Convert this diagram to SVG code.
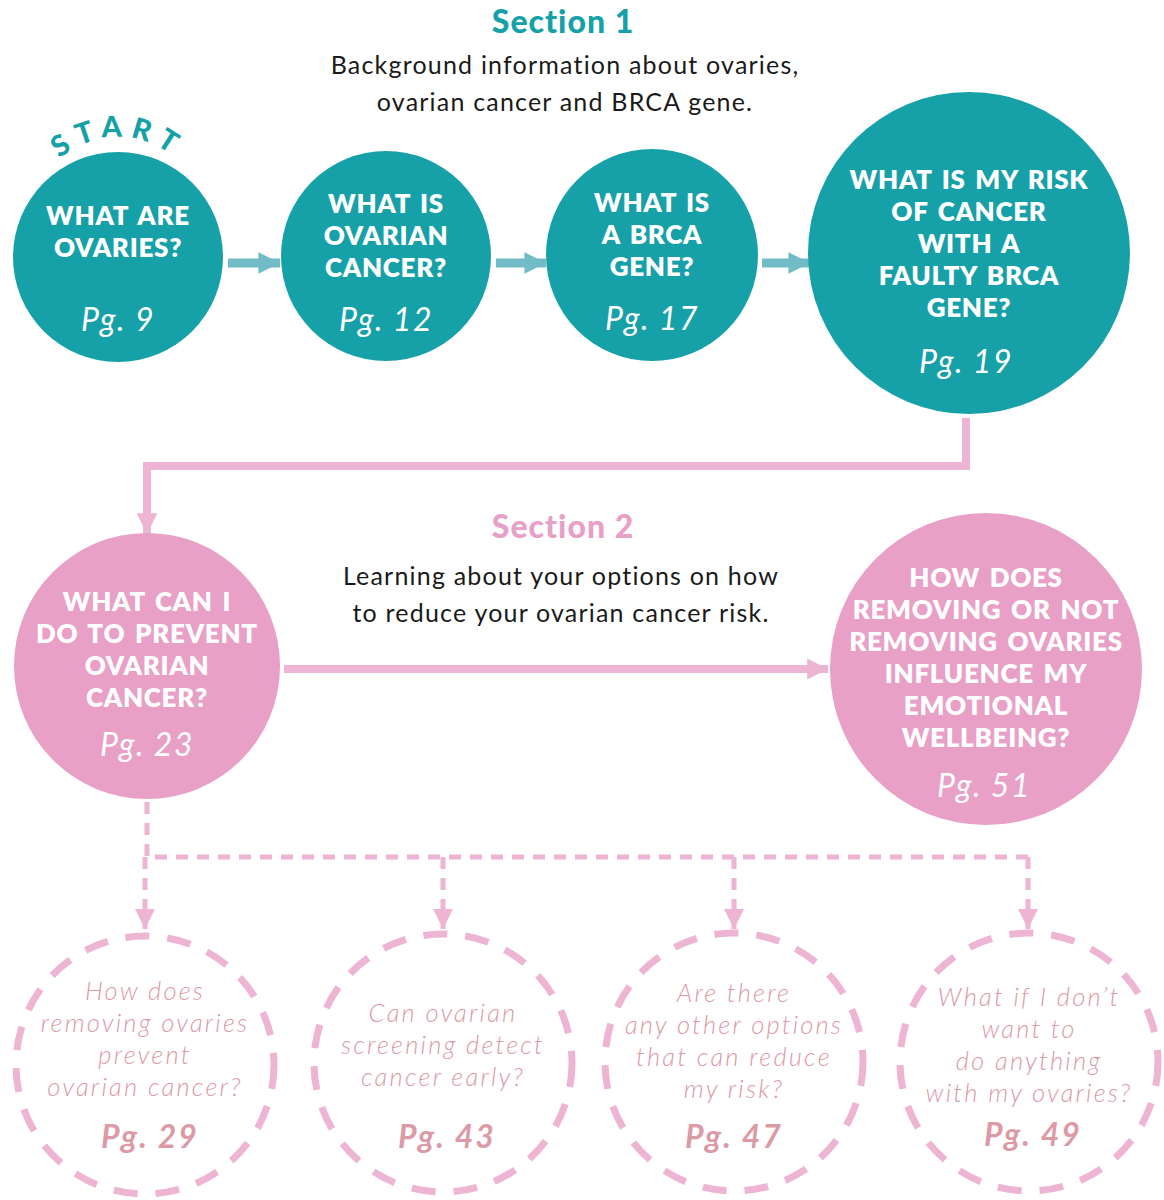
<svg xmlns="http://www.w3.org/2000/svg" width="1164" height="1200" viewBox="0 0 1164 1200">
  <style>
    .teal { fill: #16a0a7; }
    .pink { fill: #e8a0c6; }
    .q { font-family: Lato, "Noto Sans", sans-serif; font-weight: 800; font-size: 26px; fill: #ffffff; text-anchor: middle; letter-spacing: 0.7px; word-spacing: 3px; }
    .pg { font-family: Lato, "Noto Sans", sans-serif; font-style: italic; font-size: 32px; fill: #ffffff; text-anchor: middle; letter-spacing: 1.5px; }
    .sec { font-family: Lato, "Noto Sans", sans-serif; font-weight: 900; font-size: 32px; text-anchor: middle; letter-spacing: 1px; }
    .sub { font-family: Lato, "Noto Sans", sans-serif; font-size: 25px; fill: #1a1a1a; text-anchor: middle; letter-spacing: 1.2px; }
    .dq { font-family: Lato, "Noto Sans", sans-serif; font-style: italic; font-weight: 300; font-size: 25.5px; fill: #dc9aa6; text-anchor: middle; letter-spacing: 2.2px; }
    .dpg { font-family: Lato, "Noto Sans", sans-serif; font-style: italic; font-weight: 700; font-size: 32px; fill: #dc9aa6; text-anchor: middle; letter-spacing: 2px; }
    .dashc { fill: none; stroke: #edb4d3; stroke-width: 7; stroke-dasharray: 24 18; }
    .flow { fill: none; stroke: #edb4d3; stroke-width: 8; }
    .dflow { fill: none; stroke: #edb4d3; stroke-width: 5; stroke-dasharray: 12 9; }
    .tarrow { fill: none; stroke: #72bcc8; stroke-width: 9; }
  </style>
  <defs>
    <marker id="headTeal" viewBox="0 0 10 10" refX="10" refY="5" markerWidth="2.4" markerHeight="2.6" orient="auto" markerUnits="strokeWidth">
      <path d="M0,0 L10,5 L0,10 Z" fill="#72bcc8"/>
    </marker>
    <marker id="headPink" viewBox="0 0 10 10" refX="10" refY="5" markerWidth="2.6" markerHeight="3" orient="auto" markerUnits="strokeWidth">
      <path d="M0,0 L10,5 L0,10 Z" fill="#edb4d3"/>
    </marker>
    <marker id="headPinkD" viewBox="0 0 10 10" refX="10" refY="5" markerWidth="4.4" markerHeight="4" orient="auto" markerUnits="strokeWidth">
      <path d="M0,0 L10,5 L0,10 Z" fill="#edb4d3"/>
    </marker>
    <path id="startArc" d="M 16,257 A 102,120 0 0 1 220,257"/>
  </defs>

  <!-- section headings -->
  <text class="sec" x="563" y="33" fill="#16a0a7">Section 1</text>
  <text class="sub" x="565" y="74">Background information about ovaries,</text>
  <text class="sub" x="565" y="111">ovarian cancer and BRCA gene.</text>

  <text class="sec" x="563" y="538" fill="#e8a0c6">Section 2</text>
  <text class="sub" x="561" y="585">Learning about your options on how</text>
  <text class="sub" x="561" y="622">to reduce your ovarian cancer risk.</text>

  <!-- connectors -->
  <g id="connectors">
    <line class="tarrow" x1="228" y1="263" x2="280" y2="263" marker-end="url(#headTeal)"/>
    <line class="tarrow" x1="496" y1="263" x2="546" y2="263" marker-end="url(#headTeal)"/>
    <line class="tarrow" x1="762" y1="263" x2="810" y2="263" marker-end="url(#headTeal)"/>
    <path class="flow" d="M966,418 V466 H147 V534" marker-end="url(#headPink)"/>
    <line class="flow" x1="284" y1="669" x2="828" y2="669" marker-end="url(#headPink)"/>
    <path class="dflow" d="M147,802 V857 H1028"/>
    <line class="dflow" x1="145" y1="857" x2="145" y2="929" marker-end="url(#headPinkD)"/>
    <line class="dflow" x1="443" y1="857" x2="443" y2="929" marker-end="url(#headPinkD)"/>
    <line class="dflow" x1="734" y1="857" x2="734" y2="929" marker-end="url(#headPinkD)"/>
    <line class="dflow" x1="1028" y1="857" x2="1028" y2="929" marker-end="url(#headPinkD)"/>
  </g>

  <!-- section 1 -->
  <g id="start-label">
    <text font-family="Lato, 'Noto Sans', sans-serif" font-weight="900" font-size="29" fill="#16a0a7" letter-spacing="8">
      <textPath href="#startArc" startOffset="50%" text-anchor="middle">START</textPath>
    </text>
  </g>

  <g id="node-ovaries">
    <circle class="teal" cx="118" cy="257" r="105"/>
    <text class="q" x="118" y="225">WHAT ARE</text>
    <text class="q" x="118" y="257">OVARIES?</text>
    <text class="pg" x="118" y="331">Pg. 9</text>
  </g>

  <g id="node-ovarian-cancer">
    <circle class="teal" cx="386" cy="256" r="105"/>
    <text class="q" x="386" y="213">WHAT IS</text>
    <text class="q" x="386" y="245">OVARIAN</text>
    <text class="q" x="386" y="277">CANCER?</text>
    <text class="pg" x="386" y="331">Pg. 12</text>
  </g>

  <g id="node-brca">
    <circle class="teal" cx="652" cy="255" r="106"/>
    <text class="q" x="652" y="212">WHAT IS</text>
    <text class="q" x="652" y="244">A BRCA</text>
    <text class="q" x="652" y="276">GENE?</text>
    <text class="pg" x="652" y="330">Pg. 17</text>
  </g>

  <g id="node-risk">
    <circle class="teal" cx="969" cy="253" r="161"/>
    <text class="q" x="969" y="189">WHAT IS MY RISK</text>
    <text class="q" x="969" y="221">OF CANCER</text>
    <text class="q" x="969" y="253">WITH A</text>
    <text class="q" x="969" y="285">FAULTY BRCA</text>
    <text class="q" x="969" y="317">GENE?</text>
    <text class="pg" x="966" y="373">Pg. 19</text>
  </g>

  <!-- section 2 -->
  <g id="node-prevent">
    <circle class="pink" cx="147" cy="666" r="133"/>
    <text class="q" x="147" y="611">WHAT CAN I</text>
    <text class="q" x="147" y="643">DO TO PREVENT</text>
    <text class="q" x="147" y="675">OVARIAN</text>
    <text class="q" x="147" y="707">CANCER?</text>
    <text class="pg" x="147" y="756">Pg. 23</text>
  </g>

  <g id="node-wellbeing">
    <circle class="pink" cx="986" cy="669" r="156"/>
    <text class="q" x="986" y="587">HOW DOES</text>
    <text class="q" x="986" y="619">REMOVING OR NOT</text>
    <text class="q" x="986" y="651">REMOVING OVARIES</text>
    <text class="q" x="986" y="683">INFLUENCE MY</text>
    <text class="q" x="986" y="715">EMOTIONAL</text>
    <text class="q" x="986" y="747">WELLBEING?</text>
    <text class="pg" x="984" y="797">Pg. 51</text>
  </g>

  <!-- options -->
  <g id="node-removing">
    <circle class="dashc" cx="145" cy="1065" r="129"/>
    <text class="dq" x="145" y="1000">How does</text>
    <text class="dq" x="145" y="1032">removing ovaries</text>
    <text class="dq" x="145" y="1064">prevent</text>
    <text class="dq" x="145" y="1096">ovarian cancer?</text>
    <text class="dpg" x="150" y="1148">Pg. 29</text>
  </g>

  <g id="node-screening">
    <circle class="dashc" cx="443" cy="1063" r="129"/>
    <text class="dq" x="443" y="1022">Can ovarian</text>
    <text class="dq" x="443" y="1054">screening detect</text>
    <text class="dq" x="443" y="1086">cancer early?</text>
    <text class="dpg" x="447" y="1148">Pg. 43</text>
  </g>

  <g id="node-other-options">
    <circle class="dashc" cx="734" cy="1062" r="129"/>
    <text class="dq" x="734" y="1002">Are there</text>
    <text class="dq" x="734" y="1034">any other options</text>
    <text class="dq" x="734" y="1066">that can reduce</text>
    <text class="dq" x="734" y="1098">my risk?</text>
    <text class="dpg" x="734" y="1148">Pg. 47</text>
  </g>

  <g id="node-nothing">
    <circle class="dashc" cx="1029" cy="1062" r="129"/>
    <text class="dq" x="1029" y="1006">What if I don’t</text>
    <text class="dq" x="1029" y="1038">want to</text>
    <text class="dq" x="1029" y="1070">do anything</text>
    <text class="dq" x="1029" y="1102">with my ovaries?</text>
    <text class="dpg" x="1033" y="1146">Pg. 49</text>
  </g>
</svg>
